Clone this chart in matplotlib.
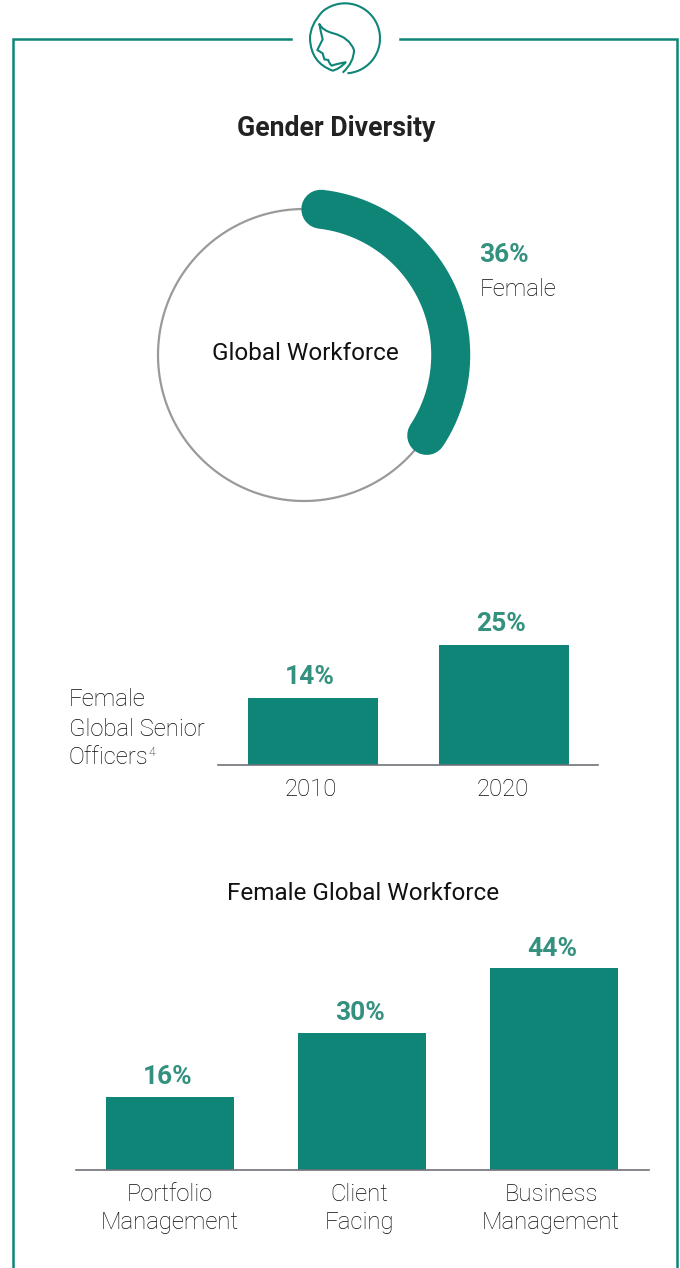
import numpy as np
import matplotlib
matplotlib.use('Agg')
import matplotlib.pyplot as plt
from matplotlib.path import Path
from matplotlib.patches import PathPatch

W, H = 680, 1268
TEAL = '#0E8577'
LABEL = '#35917F'
GREY = '#9A9A9A'
AXIS = '#6E7378'
DARK = '#0A0A0A'

female_share = 36
senior_years = ['2010', '2020']
senior_values = [14, 25]
function_names = ['Portfolio\nManagement', 'Client\nFacing', 'Business\nManagement']
function_values = [16, 30, 44]

plt.rcParams['font.family'] = ['Roboto', 'DejaVu Sans']
fig = plt.figure(figsize=(W / 100, H / 100), dpi=100, facecolor='white')


def rect(x0, y0, x1, y1):
    return [x0 / W, 1 - y1 / H, (x1 - x0) / W, (y1 - y0) / H]


# pixel overlay for frame, icon and free text
ov = fig.add_axes([0, 0, 1, 1])
ov.set_xlim(0, W)
ov.set_ylim(H, 0)
ov.axis('off')
ov.plot([290.5, 13, 13], [39, 39, H + 5], color=TEAL, lw=1.8, solid_joinstyle='miter', clip_on=False)
ov.plot([399.5, 677, 677], [39, 39, H + 5], color=TEAL, lw=1.8, solid_joinstyle='miter', clip_on=False)


# icon, traced in zoom-crop coordinates and converted to pixels
def z(p):
    return (280 + p[0] / 3, p[1] / 3)


circle = [(195 + 105 * np.cos(a), 115 + 105 * np.sin(a)) for a in np.radians(np.linspace(86, -130, 60))]
verts = [z(circle[0])]
codes = [Path.MOVETO]
for p in circle[1:]:
    verts.append(z(p))
    codes.append(Path.LINETO)
quads = [((90, 75), (90, 115)), ((92, 188), (158, 212)), ((178, 207), (197, 187)), ((175, 190), (155, 197)),
         ((147, 190), (145, 180))]
for c, e in quads:
    verts += [z(c), z(e)]
    codes += [Path.CURVE3, Path.CURVE3]
for p in [(133, 178), (128, 160), (112, 150), (128, 118)]:
    verts.append(z(p))
    codes.append(Path.LINETO)
quads2 = [((122, 95), (118, 72)), ((128, 92), (160, 100)), ((208, 112), (222, 150)), ((222, 187), (188, 218))]
for c, e in quads2:
    verts += [z(c), z(e)]
    codes += [Path.CURVE3, Path.CURVE3]
ov.add_patch(PathPatch(Path(verts, codes), fc='none', ec=TEAL, lw=1.5, joinstyle='round'))

# donut
R = 146
half = 200
cx, cy = 304, 355
pol = fig.add_axes(rect(cx - half, cy - half, cx + half, cy + half), projection='polar')
pol.patch.set_alpha(0)
pol.set_theta_zero_location('N')
pol.set_theta_direction(-1)
pol.set_ylim(0, half / R)
pol.axis('off')
t = np.linspace(0, 2 * np.pi, 361)
pol.plot(t, np.ones_like(t), color=GREY, lw=1.6)
cap = np.arcsin(19 / R)
t2 = np.linspace(cap * 0.88, 2 * np.pi * female_share / 100 - cap * 0.85, 200)
pol.plot(t2, np.full_like(t2, 1.005), color=TEAL, lw=39 * 0.72, solid_capstyle='round')

ov.set_zorder(3)
ov.patch.set_alpha(0)
ov.text(336, 129, 'Gender Diversity', ha='center', va='center', fontsize=19.2, fontweight='bold', color='#222222')
ov.text(305, 353, 'Global Workforce', ha='center', va='center', fontsize=17.5, color='#111111')
ov.text(479.5, 255, f'{female_share}%', ha='left', va='center', fontsize=19, fontweight='bold', color=LABEL)
ov.text(480, 289, 'Female', ha='left', va='center', fontsize=17.2, fontweight='light', color=DARK)
ov.text(69, 700, 'Female', ha='left', va='center', fontsize=17.2, fontweight='light', color=DARK)
ov.text(69, 729, 'Global Senior', ha='left', va='center', fontsize=17.2, fontweight='light', color=DARK)
ov.text(69, 758, 'Officers', ha='left', va='center', fontsize=17.2, fontweight='light', color=DARK)
ov.text(149, 753, '4', ha='left', va='center', fontsize=9, fontweight='light', color=DARK)
ov.text(363, 894, 'Female Global Workforce', ha='center', va='center', fontsize=17.5, color='#111111')


def bars(box, centers, values, labels, label_x, xlim, px_per, width, value_dx, value_dy):
    x0, y0, x1, y1 = box
    ax = fig.add_axes(rect(x0, y0, x1, y1))
    ax.patch.set_alpha(0)
    ax.set_xlim(*xlim)
    ax.set_ylim(0, (y1 - y0) / px_per)
    ax.bar(centers, values, width=width, color=TEAL)
    for c, v in zip(centers, values):
        ax.annotate(f'{v}%', (c, v), xytext=(value_dx, value_dy), textcoords='offset points', ha='center',
                    va='bottom', fontsize=19, fontweight='bold', color=LABEL)
    for s in ['top', 'left', 'right']:
        ax.spines[s].set_visible(False)
    ax.spines['bottom'].set_color(AXIS)
    ax.spines['bottom'].set_linewidth(1.2)
    ax.set_yticks([])
    ax.set_xticks(label_x)
    ax.set_xticklabels(labels, fontsize=17.2, fontweight='light', color=DARK, linespacing=1.25)
    ax.tick_params(axis='x', length=0, pad=9.5)
    return ax


bars((218, 600, 598, 765), [313, 504], senior_values, senior_years, [311, 503], (218, 598), 4.82, 130, -2, 6)
bars((76, 930, 649, 1170), [170, 362, 554], function_values, function_names, [170, 359, 551], (76, 649), 4.58, 128, -1.5, 5.5)

fig.savefig('out.png', dpi=100, facecolor='white')
